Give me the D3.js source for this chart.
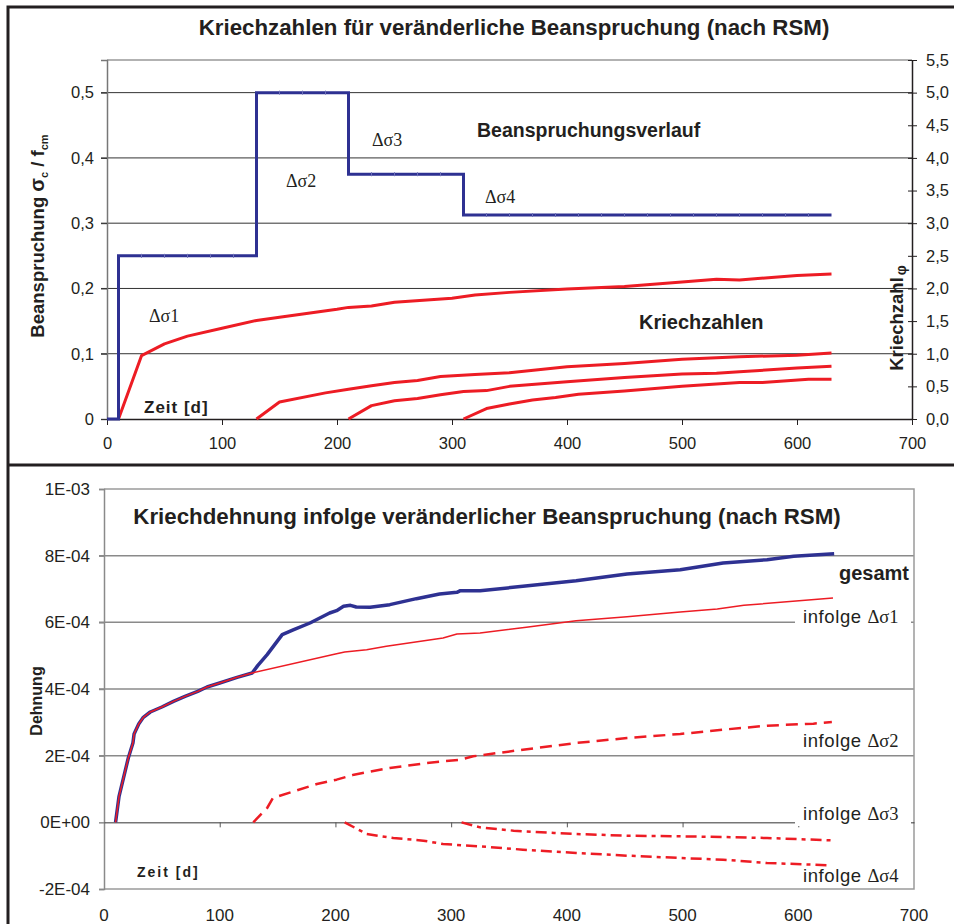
<!DOCTYPE html>
<html>
<head>
<meta charset="utf-8">
<script src="https://cdn.jsdelivr.net/npm/d3@7"></script>
<style>
  body { margin: 0; background: #fff; }
  svg { display: block; font-family: 'Liberation Sans', Arial, sans-serif; }
</style>
</head>
<body>
<svg id="chart" width="954" height="924"></svg>
<script>
// ---- data: upper chart (stress history and creep coefficients) ----
const xTicks = [0, 100, 200, 300, 400, 500, 600, 700];
const stressTicks = [0, 0.1, 0.2, 0.3, 0.4, 0.5];
const stressTickLabels = ['0', '0,1', '0,2', '0,3', '0,4', '0,5'];
const phiTicks = [0, 0.5, 1, 1.5, 2, 2.5, 3, 3.5, 4, 4.5, 5, 5.5];
const phiTickLabels = ['0,0', '0,5', '1,0', '1,5', '2,0', '2,5', '3,0', '3,5', '4,0', '4,5', '5,0', '5,5'];

const stressT = [0, 10, 10, 130, 130, 210, 210, 310, 310, 630];
const stressV = [0, 0, 0.25, 0.25, 0.5, 0.5, 0.375, 0.375, 0.3125, 0.3125];
const stressMarkT = [30, 50, 70, 90, 110, 150, 170, 190, 230, 250, 270, 290, 330, 350, 370, 390, 410, 430, 450, 470, 490, 510, 530, 550, 570, 590, 610];

const phi1T = [10, 30, 50, 70, 100, 130, 150, 200, 210, 230, 250, 300, 320, 350, 400, 450, 500, 530, 550, 600, 630];
const phi1 = [0, 0.97, 1.15, 1.27, 1.39, 1.51, 1.56, 1.68, 1.71, 1.73, 1.79, 1.85, 1.9, 1.94, 1.99, 2.03, 2.1, 2.14, 2.13, 2.2, 2.22];
const phi2T = [130, 150, 190, 210, 230, 250, 270, 290, 320, 350, 400, 450, 500, 530, 550, 600, 630];
const phi2 = [0, 0.26, 0.4, 0.455, 0.51, 0.56, 0.59, 0.65, 0.68, 0.71, 0.8, 0.85, 0.915, 0.94, 0.955, 0.975, 1.01];
const phi3T = [210, 230, 250, 270, 290, 310, 330, 350, 400, 450, 500, 530, 550, 600, 630];
const phi3 = [0, 0.205, 0.28, 0.315, 0.37, 0.42, 0.435, 0.5, 0.57, 0.635, 0.69, 0.7, 0.725, 0.78, 0.81];
const phi4T = [310, 330, 350, 370, 390, 410, 450, 500, 550, 570, 610, 630];
const phi4 = [0, 0.16, 0.23, 0.29, 0.33, 0.38, 0.43, 0.5, 0.56, 0.56, 0.61, 0.61];

// ---- data: lower chart (creep strain, values in 1E-04) ----
const strainTicks = [-2e-4, 0, 2e-4, 4e-4, 6e-4, 8e-4, 1e-3];
const strainTickLabels = ['-2E-04', '0E+00', '2E-04', '4E-04', '6E-04', '8E-04', '1E-03'];

const gesT = [10, 13, 21, 25, 26, 30, 34, 40, 50, 60, 70, 81, 89, 100, 115, 128, 133, 141, 154, 164, 178, 195, 201, 207, 213, 218, 230, 247, 270, 290, 305, 308, 325, 362, 408, 452, 498, 535, 573, 596, 631];
const ges = [0, 0.78, 1.93, 2.38, 2.65, 2.95, 3.15, 3.31, 3.46, 3.63, 3.78, 3.93, 4.06, 4.18, 4.35, 4.48, 4.71, 5.03, 5.63, 5.78, 5.98, 6.28, 6.35, 6.48, 6.51, 6.46, 6.45, 6.53, 6.71, 6.85, 6.9, 6.95, 6.95, 7.08, 7.25, 7.45, 7.58, 7.78, 7.88, 7.98, 8.06];
const eps1T = [10, 13, 21, 25, 26, 30, 34, 40, 50, 60, 70, 81, 89, 100, 115, 128, 200, 208, 227, 244, 293, 305, 325, 365, 408, 452, 498, 530, 553, 630];
const eps1 = [0, 0.78, 1.93, 2.38, 2.65, 2.95, 3.15, 3.31, 3.46, 3.63, 3.78, 3.93, 4.06, 4.18, 4.35, 4.48, 5.05, 5.11, 5.18, 5.28, 5.53, 5.65, 5.68, 5.85, 6.05, 6.17, 6.31, 6.4, 6.51, 6.73];
const eps2T = [129, 141, 146, 164, 184, 201, 216, 247, 279, 308, 319, 362, 408, 452, 498, 535, 573, 613, 629];
const eps2 = [0, 0.43, 0.73, 0.93, 1.15, 1.28, 1.43, 1.63, 1.78, 1.88, 1.98, 2.18, 2.38, 2.53, 2.65, 2.78, 2.9, 2.96, 3.01];
const eps3T = [208, 227, 250, 276, 293, 325, 362, 408, 452, 498, 535, 573, 628];
const eps3 = [0, -0.35, -0.47, -0.55, -0.65, -0.72, -0.82, -0.92, -1.0, -1.07, -1.12, -1.22, -1.29];
const eps4T = [309, 325, 354, 389, 408, 452, 498, 535, 573, 628];
const eps4 = [0, -0.15, -0.25, -0.32, -0.35, -0.4, -0.42, -0.44, -0.47, -0.54];

const INK = '#231f20';
const BLUE = '#2e3192';
const RED = '#ed1c24';
const SANS = 'Liberation Sans, Arial, sans-serif';
const SERIF = 'Liberation Serif, Times New Roman, serif';

const svg = d3.select('#chart');

// panel frames
svg.append('path')
  .attr('d', 'M8,924 V7 H960 M8,465 H960')
  .attr('fill', 'none')
  .attr('stroke', INK)
  .attr('stroke-width', 3);

// ================= upper chart =================
const x1 = d3.scaleLinear().domain([0, 700]).range([107, 912]);
const yS = d3.scaleLinear().domain([0, 0.55]).range([419, 60]);
const yP = d3.scaleLinear().domain([0, 5.5]).range([419, 60]);

const upper = svg.append('g');

// gridlines
upper.append('g')
  .selectAll('line')
  .data(stressTicks.slice(1))
  .join('line')
  .attr('x1', x1(0) - 6)
  .attr('x2', x1(700))
  .attr('y1', (d) => yS(d))
  .attr('y2', (d) => yS(d))
  .attr('stroke', '#333')
  .attr('stroke-width', 1);

upper.append('line')
  .attr('x1', x1(0)).attr('x2', x1(700))
  .attr('y1', yS(0.55)).attr('y2', yS(0.55))
  .attr('stroke', '#999').attr('stroke-width', 1.5);

// left axis
const leftAxis = upper.append('g').attr('transform', `translate(${x1(0)},0)`)
  .call(d3.axisLeft(yS).tickValues(stressTicks).tickSize(6).tickFormat((d, i) => stressTickLabels[i]));
leftAxis.select('.domain').attr('stroke', '#777').attr('stroke-width', 1.5);
leftAxis.selectAll('line').attr('stroke', '#333');
leftAxis.selectAll('text').attr('font-size', 16.5).attr('fill', INK)
  .attr('font-family', SANS).attr('x', -13);

// right axis
const rightAxis = upper.append('g').attr('transform', `translate(${x1(700)},0)`)
  .call(d3.axisRight(yP).tickValues(phiTicks).tickSizeInner(5).tickSizeOuter(0).tickFormat((d, i) => phiTickLabels[i]));
rightAxis.select('.domain').attr('stroke', INK).attr('stroke-width', 1.5);
rightAxis.selectAll('.tick line').attr('x1', -4).attr('stroke', INK);
rightAxis.selectAll('text').attr('font-size', 16.5).attr('fill', INK)
  .attr('font-family', SANS).attr('x', 14);

// bottom axis
const botAxis = upper.append('g').attr('transform', `translate(0,${yS(0)})`)
  .call(d3.axisBottom(x1).tickValues(xTicks).tickSizeInner(6).tickSizeOuter(0));
botAxis.select('.domain').attr('stroke', INK).attr('stroke-width', 1.5);
botAxis.selectAll('line').attr('stroke', INK);
botAxis.selectAll('text').attr('font-size', 16.5).attr('fill', INK)
  .attr('font-family', SANS).attr('y', 18);

// creep coefficient curves
const phiLine = d3.line().x((d) => x1(d[0])).y((d) => yP(d[1]));
[[phi1T, phi1], [phi2T, phi2], [phi3T, phi3], [phi4T, phi4]].forEach(([t, v]) => {
  upper.append('path')
    .datum(d3.zip(t, v))
    .attr('d', phiLine)
    .attr('fill', 'none')
    .attr('stroke', RED)
    .attr('stroke-width', 3)
    .attr('stroke-linejoin', 'round');
});

// stress history
const stressLine = d3.line().x((d) => x1(d[0])).y((d) => yS(d[1]));
upper.append('path')
  .datum(d3.zip(stressT, stressV))
  .attr('d', stressLine)
  .attr('fill', 'none')
  .attr('stroke', BLUE)
  .attr('stroke-width', 3);

const levelAt = (t) => {
  let v = 0;
  stressT.forEach((s, i) => { if (s <= t) v = stressV[i]; });
  return v;
};
upper.append('g')
  .selectAll('line')
  .data(stressMarkT)
  .join('line')
  .attr('x1', (d) => x1(d)).attr('x2', (d) => x1(d))
  .attr('y1', (d) => yS(levelAt(d)) - 2).attr('y2', (d) => yS(levelAt(d)) + 2)
  .attr('stroke', '#6d70b8').attr('stroke-width', 1);

// titles and labels
const txt = (g, x, y, s, size, opts = {}) => {
  return g.append('text')
    .attr('x', x).attr('y', y)
    .attr('font-size', size)
    .attr('fill', INK)
    .attr('font-weight', opts.bold ? 'bold' : null)
    .attr('text-anchor', opts.anchor || 'start')
    .attr('letter-spacing', opts.ls || null)
    .text(s);
};

txt(upper, 514, 35, 'Kriechzahlen für veränderliche Beanspruchung (nach RSM)', 22.3, { bold: true, anchor: 'middle' });
txt(upper, 477, 137, 'Beanspruchungsverlauf', 19.5, { bold: true });
txt(upper, 639, 329, 'Kriechzahlen', 20, { bold: true });
txt(upper, 144, 413, 'Zeit [d]', 17, { bold: true, ls: 1 });

const sigmaLabel = (g, x, y, n, size) => {
  return g.append('text').attr('x', x).attr('y', y)
    .attr('font-size', size).attr('fill', INK)
    .attr('font-family', SERIF)
    .text('\u0394\u03c3' + n);
};
sigmaLabel(upper, 149, 322, '1', 18);
sigmaLabel(upper, 286, 187, '2', 18);
sigmaLabel(upper, 372, 146, '3', 18);
sigmaLabel(upper, 485, 203, '4', 18);

// rotated axis titles
const yTitle = upper.append('text')
  .attr('transform', 'translate(44,236) rotate(-90)')
  .attr('text-anchor', 'middle')
  .attr('font-size', 18.5)
  .attr('font-weight', 'bold')
  .attr('fill', INK);
yTitle.append('tspan').text('Beanspruchung ');
yTitle.append('tspan').attr('font-size', 20).text('\u03c3');
yTitle.append('tspan').attr('font-size', 11).attr('dy', 4).text('c');
yTitle.append('tspan').attr('dy', -4).text(' / f');
yTitle.append('tspan').attr('font-size', 11).attr('dy', 4).text('cm');

const phiTitle = upper.append('text')
  .attr('transform', 'translate(903,318) rotate(-90)')
  .attr('text-anchor', 'middle')
  .attr('font-size', 18.5)
  .attr('font-weight', 'bold')
  .attr('fill', INK);
phiTitle.append('tspan').text('Kriechzahl');
phiTitle.append('tspan').attr('font-size', 14).attr('dx', 2).attr('dy', 3).text('\u03c6');

// ================= lower chart =================
const x2 = d3.scaleLinear().domain([0, 700]).range([104, 914]);
const yE = d3.scaleLinear().domain([-2e-4, 1e-3]).range([889, 489]);

const lower = svg.append('g');

// gridlines
lower.append('g')
  .selectAll('line')
  .data([2e-4, 4e-4, 6e-4, 8e-4])
  .join('line')
  .attr('x1', x2(0) - 5).attr('x2', x2(700))
  .attr('y1', (d) => yE(d)).attr('y2', (d) => yE(d))
  .attr('stroke', '#8a8a8a').attr('stroke-width', 1.5);

// plot border (top, right, bottom)
lower.append('path')
  .attr('d', `M${x2(0)},${yE(1e-3)} H${x2(700)} V${yE(-2e-4)} H${x2(0)}`)
  .attr('fill', 'none')
  .attr('stroke', '#9a9a9a')
  .attr('stroke-width', 1.5);

// left axis
const lAx2 = lower.append('g').attr('transform', `translate(${x2(0)},0)`)
  .call(d3.axisLeft(yE).tickValues(strainTicks).tickSize(5).tickFormat((d, i) => strainTickLabels[i]));
lAx2.select('.domain').attr('stroke', '#8a8a8a').attr('stroke-width', 1.5);
lAx2.selectAll('line').attr('stroke', '#8a8a8a').attr('stroke-width', 1.5);
lAx2.selectAll('text').attr('font-size', 17).attr('fill', INK)
  .attr('font-family', SANS).attr('x', -14);

// x axis on zero line, labels low
const zAx = lower.append('g').attr('transform', `translate(0,${yE(0)})`)
  .call(d3.axisBottom(x2).tickValues(xTicks.slice(1, -1)).tickSizeInner(5).tickSizeOuter(0).tickFormat(''));
zAx.select('.domain').attr('stroke', '#333').attr('stroke-width', 1);
zAx.selectAll('line').attr('stroke', '#555');

lower.append('g')
  .selectAll('text')
  .data(xTicks)
  .join('text')
  .attr('x', (d) => x2(d))
  .attr('y', 921)
  .attr('text-anchor', 'middle')
  .attr('font-size', 17)
  .attr('fill', INK)
  .text((d) => d);

// strain curves
const epsLine = d3.line().x((d) => x2(d[0])).y((d) => yE(d[1] * 1e-4));
const drawEps = (t, v, color, width, dash) => {
  lower.append('path')
    .datum(d3.zip(t, v))
    .attr('d', epsLine)
    .attr('fill', 'none')
    .attr('stroke', color)
    .attr('stroke-width', width)
    .attr('stroke-dasharray', dash)
    .attr('stroke-linejoin', 'round');
};
drawEps(gesT, ges, BLUE, 3.5, null);
drawEps(eps1T, eps1, RED, 1.5, null);
drawEps(eps2T, eps2, RED, 2.5, '12,7');
drawEps(eps3T, eps3, RED, 2.5, '11,5,4,5');
drawEps(eps4T, eps4, RED, 2.5, '11,5,4,5');

txt(lower, 487, 524, 'Kriechdehnung infolge veränderlicher Beanspruchung (nach RSM)', 22.3, { bold: true, anchor: 'middle' });
txt(lower, 839, 580, 'gesamt', 20, { bold: true });
txt(lower, 137, 877, 'Zeit [d]', 14, { bold: true, ls: 2 });

const seriesLabel = (y, n, masked) => {
  if (masked) {
    lower.append('rect')
      .attr('x', 795).attr('y', y - 18).attr('width', 116).attr('height', 24)
      .attr('fill', '#fff');
  }
  const t = lower.append('text').attr('x', 803).attr('y', y)
    .attr('font-size', 18.5).attr('fill', INK);
  t.append('tspan').attr('letter-spacing', 0.6).text('infolge ');
  t.append('tspan').attr('font-family', SERIF).text('\u0394\u03c3' + n);
};
seriesLabel(623, '1', true);
seriesLabel(747, '2', false);
seriesLabel(820, '3', true);
seriesLabel(882, '4', false);

lower.append('text')
  .attr('transform', 'translate(42,701) rotate(-90)')
  .attr('text-anchor', 'middle')
  .attr('font-size', 16)
  .attr('font-weight', 'bold')
  .attr('fill', INK)
  .text('Dehnung');
</script>
</body>
</html>
